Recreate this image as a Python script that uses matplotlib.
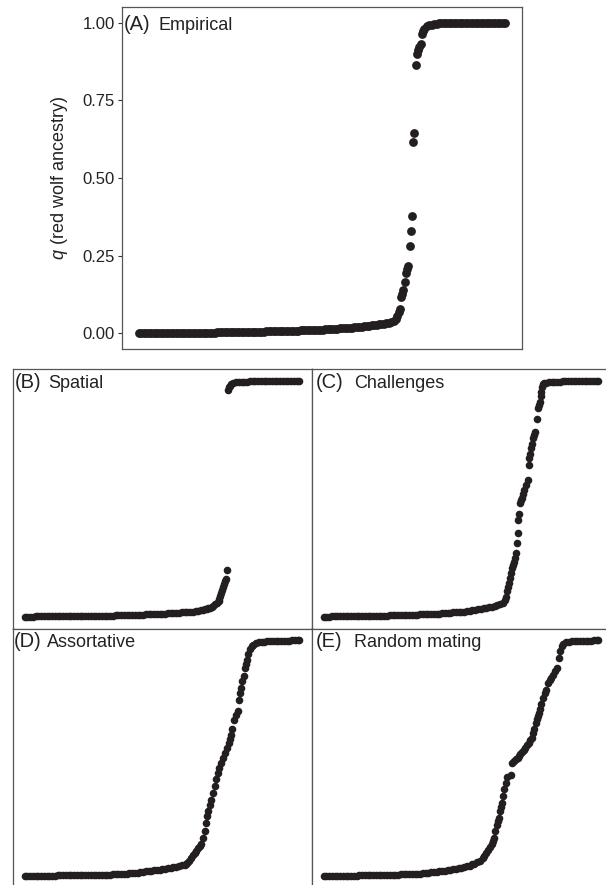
import matplotlib
matplotlib.use("Agg")
import matplotlib.pyplot as plt

plt.rcParams['font.family'] = ['Liberation Sans', 'DejaVu Sans']
plt.rcParams['mathtext.fontset'] = 'custom'
plt.rcParams['mathtext.it'] = 'Liberation Sans:italic'
plt.rcParams['mathtext.rm'] = 'Liberation Sans'

# (rank, q); ranks of individuals sorted by q (300 per panel)
empirical = [
    (1, .000), (3, .000), (5, .000), (7, .000), (9, .001), (11, .001), (13, .001), (15, .001), (17, .001), (19, .001),
    (21, .001), (23, .001), (25, .002), (27, .002), (29, .002), (31, .002), (33, .002), (35, .002), (37, .002), (39, .002),
    (41, .002), (43, .002), (45, .003), (47, .003), (49, .003), (51, .003), (53, .003), (55, .003), (57, .003), (59, .003),
    (61, .003), (63, .003), (65, .004), (67, .004), (69, .004), (71, .004), (73, .004), (75, .004), (77, .004), (79, .004),
    (81, .005), (83, .005), (85, .005), (87, .005), (89, .005), (91, .005), (93, .005), (95, .005), (97, .006), (99, .006),
    (101, .006), (103, .006), (105, .007), (107, .007), (109, .007), (111, .007), (113, .007), (115, .007), (117, .008), (119, .008),
    (121, .008), (123, .008), (125, .009), (127, .009), (129, .009), (131, .009), (133, .010), (135, .010), (137, .010), (139, .010),
    (141, .011), (143, .011), (145, .011), (147, .012), (149, .012), (151, .012), (153, .013), (155, .013), (157, .014), (159, .014),
    (161, .015), (163, .015), (165, .016), (167, .016), (169, .017), (171, .017), (173, .018), (175, .019), (177, .020), (179, .021),
    (181, .022), (183, .022), (185, .023), (187, .024), (189, .025), (191, .026), (193, .027), (195, .028), (197, .029), (199, .030),
    (201, .032), (203, .033), (205, .035), (207, .037), (209, .040), (211, .046), (212, .055), (213, .068), (214, .080),
    (215, .118), (216, .128), (217, .140), (218, .165), (219, .195), (220, .208), (221, .218), (222, .282), (223, .328), (224, .377),
    (225, .615), (226, .646), (227, .865), (228, .900), (229, .912), (230, .922), (231, .932), (232, .962), (233, .972), (234, .980),
    (236, .988), (238, .991), (240, .993), (242, .995), (244, .996), (246, .997), (248, .998), (250, .999), (252, .999), (254, .999),
    (256, .999), (258, 1.0), (260, 1.0), (262, 1.0), (264, 1.0), (266, 1.0), (268, 1.0), (270, 1.0), (272, 1.0), (274, 1.0),
    (276, 1.0), (278, 1.0), (280, 1.0), (282, 1.0), (284, 1.0), (286, 1.0), (288, 1.0), (290, 1.0), (292, 1.0), (294, 1.0),
    (296, 1.0), (298, 1.0), (300, 1.0),
]

spatial = [
    (1, .000), (4, .000), (7, .000), (10, .000), (13, .001), (16, .001), (19, .001), (22, .001), (25, .001), (28, .001),
    (31, .001), (34, .002), (37, .002), (40, .002), (43, .002), (46, .002), (49, .002), (52, .002), (55, .003), (58, .003),
    (61, .003), (64, .003), (67, .003), (70, .003), (73, .004), (76, .004), (79, .004), (82, .004), (85, .004), (88, .005),
    (91, .005), (94, .005), (97, .005), (100, .006), (103, .006), (106, .006), (109, .007), (112, .007), (115, .007), (118, .008),
    (121, .008), (124, .008), (127, .009), (130, .009), (133, .010), (136, .010), (139, .011), (142, .011), (145, .012), (148, .012),
    (151, .013), (154, .013), (157, .014), (160, .015), (163, .015), (166, .016), (169, .017), (172, .018), (175, .019), (178, .020),
    (181, .021), (184, .022), (187, .023), (190, .025), (193, .027), (195, .029), (197, .031), (199, .033), (201, .035), (203, .038),
    (205, .042), (206, .045), (208, .052), (210, .060), (212, .068), (213, .075), (214, .088), (215, .100), (216, .112), (217, .125),
    (218, .138), (219, .150), (220, .160), (221, .198),
    (222, .962), (223, .972), (224, .980), (226, .987), (228, .991), (231, .994), (234, .995), (237, .996), (240, .997), (243, .997),
    (246, .998), (249, .998), (252, .999), (255, .999), (258, 1.0), (261, 1.0), (264, 1.0), (267, 1.0), (270, 1.0), (273, 1.0),
    (276, 1.0), (279, 1.0), (282, 1.0), (285, 1.0), (288, 1.0), (291, 1.0), (294, 1.0), (297, 1.0), (300, 1.0),
]

challenges = [
    (1, .000), (4, .000), (7, .000), (10, .001), (13, .001), (16, .001), (19, .001), (22, .001), (25, .002), (28, .002),
    (31, .002), (34, .002), (37, .002), (40, .003), (43, .003), (46, .003), (49, .003), (52, .003), (55, .004), (58, .004),
    (61, .004), (64, .005), (67, .005), (70, .005), (73, .006), (76, .006), (79, .006), (82, .007), (85, .007), (88, .007),
    (91, .008), (94, .008), (97, .008), (100, .009), (103, .009), (106, .010), (109, .010), (112, .011), (115, .011), (118, .012),
    (121, .012), (124, .013), (127, .013), (130, .014), (133, .015), (136, .016), (139, .017), (142, .018), (145, .019), (148, .020),
    (151, .021), (154, .022), (157, .024), (160, .026), (163, .027), (166, .029), (169, .031), (172, .033), (175, .035), (178, .038),
    (181, .040), (184, .043), (187, .046), (190, .049), (193, .053), (196, .058), (198, .072), (200, .085),
    (201, .110), (202, .125), (203, .142), (204, .165), (205, .184), (206, .205), (207, .218), (208, .230), (209, .250), (210, .269),
    (211, .314), (212, .353), (213, .410), (214, .435), (215, .483), (216, .493), (217, .502), (218, .520), (219, .537), (221, .560),
    (223, .580), (224, .643), (225, .671), (226, .690), (227, .714), (228, .732), (229, .756), (230, .770), (231, .784), (233, .838),
    (234, .883), (235, .897), (236, .911), (237, .935), (238, .954), (239, .975), (240, .985),
    (241, .989), (243, .992), (246, .994), (249, .995), (252, .996), (255, .997), (258, .997), (261, .998), (264, .998), (267, .998),
    (270, .999), (273, .999), (276, .999), (279, 1.0), (282, 1.0), (285, 1.0), (288, 1.0), (291, 1.0), (294, 1.0), (297, 1.0),
    (300, 1.0),
]

assortative = [
    (1, .000), (4, .000), (7, .001), (10, .001), (13, .001), (16, .001), (19, .001), (22, .002), (25, .002), (28, .002),
    (31, .002), (34, .002), (37, .003), (40, .003), (43, .003), (46, .003), (49, .003), (52, .004), (55, .004), (58, .004),
    (61, .004), (64, .004), (67, .005), (70, .005), (73, .005), (76, .005), (79, .006), (82, .006), (85, .006), (88, .007),
    (91, .007), (94, .007), (97, .008), (100, .009), (103, .009), (106, .010), (109, .011), (112, .011), (115, .012), (118, .013),
    (121, .014), (124, .015), (127, .017), (130, .018), (133, .020), (136, .021), (139, .023), (142, .025), (145, .027), (148, .028),
    (151, .030), (154, .032), (157, .034), (160, .036), (163, .039), (166, .041), (169, .043), (172, .046), (175, .049), (177, .051),
    (178, .055), (180, .065), (182, .078), (184, .088), (186, .098), (188, .106), (190, .120), (192, .130), (193, .138), (195, .163),
    (197, .191), (198, .226), (199, .254), (201, .276), (203, .300), (204, .322), (206, .353), (208, .382), (209, .410), (211, .438),
    (213, .460), (215, .480), (217, .502), (219, .523), (221, .544), (223, .566), (225, .582), (226, .600), (227, .625), (229, .664),
    (231, .685), (233, .700), (234, .749), (235, .777), (236, .799), (238, .827), (240, .848), (241, .883), (242, .900), (243, .918),
    (244, .940), (246, .961), (248, .975), (250, .982), (253, .988), (256, .991), (259, .993), (262, .994), (265, .995), (268, .996),
    (271, .997), (274, .997), (277, .998), (280, .998), (283, .999), (286, .999), (289, .999), (292, 1.0), (295, 1.0), (298, 1.0),
    (300, 1.0),
]

random_mating = [
    (1, .000), (4, .000), (7, .000), (10, .001), (13, .001), (16, .001), (19, .001), (22, .001), (25, .002), (28, .002),
    (31, .002), (34, .002), (37, .002), (40, .003), (43, .003), (46, .003), (49, .003), (52, .004), (55, .004), (58, .004),
    (61, .005), (64, .005), (67, .005), (70, .006), (73, .006), (76, .007), (79, .007), (82, .007), (85, .008), (88, .008),
    (91, .008), (94, .009), (97, .009), (100, .010), (103, .010), (106, .011), (109, .012), (112, .013), (115, .015), (118, .016),
    (121, .017), (124, .018), (127, .020), (130, .021), (133, .023), (136, .025), (139, .027), (142, .029), (145, .031), (148, .034),
    (151, .036), (154, .039), (157, .042), (160, .045), (163, .050), (165, .053), (168, .059), (171, .066), (174, .076), (176, .086),
    (178, .097), (180, .110), (182, .124), (184, .138), (185, .150), (186, .163), (188, .191), (190, .219), (191, .235), (192, .248),
    (193, .276), (194, .295), (195, .311), (196, .339), (197, .368), (199, .393), (201, .421), (205, .430), (206, .480), (208, .488),
    (210, .495), (212, .503), (214, .510), (215, .516), (217, .525), (219, .535), (220, .544), (222, .555), (224, .566), (226, .576),
    (228, .587), (229, .605), (230, .622), (232, .650), (233, .665), (234, .678), (235, .692), (236, .707), (238, .728), (240, .756),
    (242, .775), (243, .791), (245, .820), (247, .832), (248, .841), (251, .855), (253, .869), (255, .883), (257, .926), (258, .954),
    (260, .975), (262, .984), (265, .992), (268, .994), (271, .995), (274, .996), (277, .997), (280, .998), (283, .998), (286, .999),
    (289, .999), (292, .999), (295, 1.0), (298, 1.0), (300, 1.0),
]

yticks = [0, 0.25, 0.5, 0.75, 1.0]
ytick_labels = ["0.00", "0.25", "0.50", "0.75", "1.00"]

W, H = 606, 885
fig = plt.figure(figsize=(W / 100, H / 100), dpi=100)

def box(l, t, r, b):
    return [l / W, 1 - b / H, (r - l) / W, (b - t) / H]

dot_col = "#231f20"
edge_col = "#555555"

# panel: data, box (px), letter, name, letter x, name x, baseline y, marker size, x padding
panels = [
    (empirical, (122, 7, 522, 349), "(A)", "Empirical", 124, 158, 30, 40, 0.046),
    (spatial, (12.5, 369, 311.5, 628.5), "(B)", "Spatial", 15, 48, 388, 30, 0.044),
    (challenges, (311.5, 369, 610.5, 628.5), "(C)", "Challenges", 315.5, 354, 388, 30, 0.044),
    (assortative, (12.5, 628.5, 311.5, 888), "(D)", "Assortative", 14, 47, 647, 30, 0.044),
    (random_mating, (311.5, 628.5, 610.5, 888), "(E)", "Random mating", 315.5, 354, 647, 30, 0.044),
]

for data, (l, t, r, b), letter, name, lx, nx, base, ms, pad in panels:
    ax = fig.add_axes(box(l, t, r, b))
    rank = [p[0] for p in data]
    q = [p[1] for p in data]
    ax.scatter(rank, q, s=ms, color=dot_col, linewidths=0, zorder=3)
    ax.set_xlim(1 - pad * 299, 300 + pad * 299)
    ax.set_ylim(-0.05, 1.05)
    ax.set_xticks([])
    for sp in ax.spines.values():
        sp.set_color(edge_col)
        sp.set_linewidth(0.9)
    if letter == "(A)":
        ax.set_yticks(yticks)
        ax.set_yticklabels(ytick_labels)
        ax.tick_params(axis="y", length=3, width=0.8, color="#333333", pad=2,
                       labelsize=12, labelcolor="#222222")
        ax.set_ylabel(r"$\mathit{q}$ (red wolf ancestry)", fontsize=13, color="#222222")
        ax.yaxis.set_label_coords(-0.13, 0.5)
    else:
        ax.set_yticks([])
    fig.text(lx / W, 1 - base / H, letter, fontsize=14.5, color="#222222", va="baseline", ha="left")
    fig.text(nx / W, 1 - base / H, name, fontsize=13, color="#222222", va="baseline", ha="left")

fig.savefig("out.png", dpi=100)
